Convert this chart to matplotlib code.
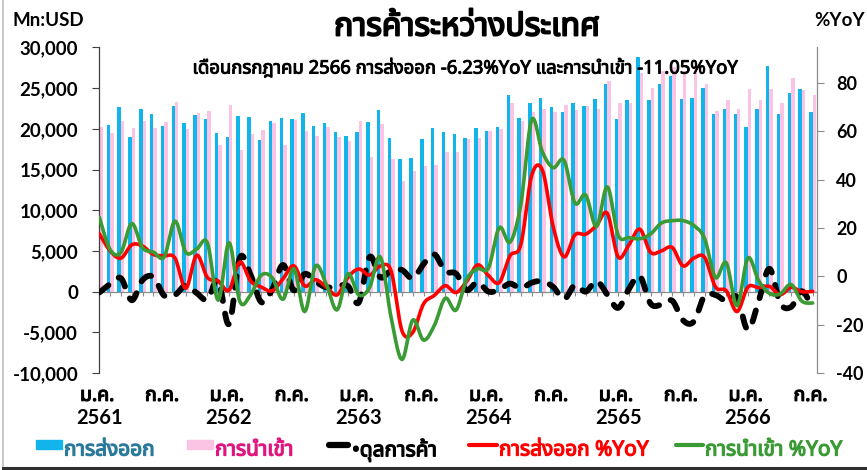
import numpy as np
import matplotlib
matplotlib.use("Agg")
import matplotlib.pyplot as plt
import matplotlib.patheffects as pe
from matplotlib import font_manager
from matplotlib.ft2font import FT2Font
from matplotlib.patches import Rectangle
from matplotlib.lines import Line2D
import matplotlib.ticker as mticker


def find_thai_font():
    prefer = ['Tahoma', 'Leelawadee UI', 'Leelawadee', 'Noto Sans Thai', 'Noto Sans Thai UI',
              'Garuda', 'Loma', 'Sarabun', 'Waree', 'Umpush', 'Kinnari', 'Norasi']
    found = {}
    for f in font_manager.fontManager.ttflist:
        try:
            ft = FT2Font(f.fname)
            if ft.get_char_index(0x0E01) and ft.get_char_index(0x0E04):
                found.setdefault(f.name, f.fname)
        except Exception:
            pass
    for p in prefer:
        if p in found:
            return p
    return next(iter(found)) if found else 'DejaVu Sans'


THAI = find_thai_font()
FAM = [THAI, 'Lato', 'DejaVu Sans']
NUM = ['Lato', 'DejaVu Sans']
plt.rcParams['axes.unicode_minus'] = False

# monthly data, ม.ค. 2561 (Jan 2018) .. ก.ค. 2566 (Jul 2023)
exports = [20100, 20450, 22660, 19060, 22410, 21880, 20330, 22860, 20780, 21760, 21190, 19470,
           18980, 21630, 21470, 18610, 21020, 21350, 21230, 21920, 20370, 20780, 19670, 19140,
           19670, 20820, 22370, 18930, 16280, 16480, 18810, 20160, 19670, 19390, 18930, 20080,
           19750, 20210, 24210, 21390, 23150, 23770, 22660, 22050, 23150, 22820, 23720, 25480,
           21230, 23560, 28830, 23560, 25520, 26540, 23640, 23770, 25030, 21840, 22410, 21800,
           20250, 22410, 27770, 21800, 24380, 24870, 22120]
imports = [20210, 19510, 21020, 20120, 20980, 20080, 20820, 23270, 20000, 21920, 22170, 18070,
           22980, 17460, 19430, 19920, 20740, 18070, 21070, 19750, 19140, 20250, 19020, 18450,
           21020, 16560, 20610, 16320, 13620, 14850, 15420, 15580, 17180, 17180, 18730, 18900,
           19750, 19960, 23230, 20980, 22050, 22490, 22090, 22980, 22330, 22820, 22410, 25850,
           23230, 23230, 26910, 25030, 27120, 27650, 27160, 27450, 25520, 22250, 23560, 22490,
           24950, 23560, 24950, 23230, 26260, 24820, 24170]
balance = [-110, 940, 1640, -1060, 1430, 1800, -490, -410, 780, -160, -980, 1400,
           -4000, 4170, 2040, -1310, 280, 3280, 160, 2170, 1230, 530, 650, 690,
           -1350, 4260, 1760, 2610, 2660, 1630, 3390, 4580, 2490, 2210, 200, 1180,
           0, 250, 980, 410, 1100, 1280, 570, -930, 820, 0, 1310, -370,
           -2000, 330, 1920, -1470, -1600, -1110, -3520, -3680, -490, -410, -1150, -690,
           -4700, -1150, 2820, -1430, -1880, 50, -2050]
export_yoy = [17.6, 10.5, 7.5, 13.0, 12.5, 9.0, 8.5, 7.5, -5.0, 8.7, -0.5, -2.0,
              -5.7, 5.9, -2.0, -4.5, -6.0, -1.0, 4.3, -4.0, -1.4, -4.5, -7.7, -0.5,
              3.0, 0.5, 4.2, 2.1, -22.5, -23.2, -11.4, -7.9, -3.9, -6.7, -2.0, 4.7,
              0.3, -2.6, 8.5, 13.1, 41.6, 43.8, 20.3, 8.0, 17.1, 17.4, 21.0, 26.0,
              8.0, 13.0, 19.5, 9.9, 10.5, 11.9, 4.3, 7.5, 7.8, -4.4, -6.0, -14.6,
              -4.5, -4.7, -4.2, -7.6, -4.6, -6.4, -6.23]
import_yoy = [24.4, 11.0, 9.9, 21.8, 11.8, 10.0, 8.0, 22.8, 9.9, 11.2, 13.8, -9.9,
              13.9, -10.4, -7.6, 0.5, -0.6, -9.5, 3.1, -14.6, 4.2, -3.3, -13.9, 1.0,
              -7.7, -4.7, 8.0, -17.1, -34.4, -18.1, -26.4, -20.3, -9.1, -14.0, -1.1, 3.1,
              3.4, 20.1, 14.1, 29.8, 64.7, 51.3, 44.9, 47.9, 30.3, 33.6, 20.6, 37.0,
              17.0, 16.0, 15.5, 17.5, 22.0, 23.0, 23.0, 21.0, 15.6, -0.5, 5.6, -12.2,
              7.5, -1.8, -7.1, -7.3, -3.4, -10.3, -11.05]
year_labels = ['2561', '2562', '2563', '2564', '2565', '2566']
month_jan, month_jul = 'ม.ค.', 'ก.ค.'

c_exp, c_imp = '#12B4EC', '#FBC3E4'
c_red, c_green = '#FF0000', '#3A9A33'


def smooth(y, n=12):
    # Excel-style smoothed line (bezier through each point)
    P = np.column_stack([np.arange(len(y)), np.asarray(y, float)])
    Q = np.vstack([P[0], P, P[-1]])
    t = np.linspace(0, 1, n, endpoint=False)[:, None]
    out = []
    for i in range(len(P) - 1):
        p0, p1, p2, p3 = Q[i], Q[i + 1], Q[i + 2], Q[i + 3]
        c1 = p1 + (p2 - p0) / 6
        c2 = p2 - (p3 - p1) / 6
        out.append((1 - t) ** 3 * p1 + 3 * (1 - t) ** 2 * t * c1 + 3 * (1 - t) * t ** 2 * c2 + t ** 3 * p2)
    out.append(P[-1:])
    out = np.vstack(out)
    return out[:, 0], out[:, 1]


def bold(color='black', w=0.9):
    # the Thai face has no bold weight, thicken the strokes instead
    return [pe.withStroke(linewidth=w, foreground=color)]


W, H = 867, 470
fig = plt.figure(figsize=(W / 100, H / 100), dpi=100)
ax = fig.add_axes([99 / W, 1 - 373 / H, (817 - 99) / W, (373 - 47.5) / H])
ax2 = ax.twinx()

x = np.arange(len(exports))
bw = 0.32
ax.bar(x - bw / 2, exports, bw, color=c_exp, linewidth=0, zorder=2)
ax.bar(x + bw / 2, imports, bw, color=c_imp, linewidth=0, zorder=2)

bx, by = smooth(balance)
ax.plot(bx, by, color='black', lw=4.2, dashes=(2.0, 2.2), dash_capstyle='round', zorder=3)
ax.set_xlim(-0.03, 66.4)
ax.set_ylim(-10000, 30000)
ax.yaxis.set_major_locator(mticker.MultipleLocator(5000))
ax.yaxis.set_major_formatter(mticker.FuncFormatter(lambda v, p: f'{int(v):,}'))

rx, ry = smooth(export_yoy)
gx, gy = smooth(import_yoy)
ax2.plot(rx, ry, color=c_red, lw=2.6, solid_capstyle='round', zorder=4)
ax2.plot(gx, gy, color=c_green, lw=2.6, solid_capstyle='round', zorder=5)
ax2.set_ylim(-40, 94.6)
ax2.set_yticks(range(-40, 81, 20))
ax2.set_zorder(ax.get_zorder() + 1)
ax2.patch.set_visible(False)

gray = '#8C8C8C'
for a in (ax, ax2):
    for s in a.spines.values():
        s.set_color(gray)
        s.set_linewidth(0.9)
    a.spines['top'].set_visible(False)
ax.spines['left'].set_color('#404040')
ax.spines['right'].set_visible(False)
ax2.spines['left'].set_visible(False)
ax2.spines['bottom'].set_visible(False)
ax.spines['bottom'].set_position(('data', 0))
ax.set_xticks(x)
ax.tick_params(axis='x', direction='out', length=3, color=gray, labelbottom=False)
ax.tick_params(axis='y', direction='out', length=5, color='#404040', pad=10)
ax2.tick_params(axis='y', direction='out', length=5, color=gray, pad=9)
for lab in ax.get_yticklabels() + ax2.get_yticklabels():
    lab.set_fontfamily(NUM)
    lab.set_fontweight('bold')
    lab.set_fontsize(13.5)
for lab in ax2.get_yticklabels():
    lab.set_fontsize(13)

trans = ax.get_xaxis_transform()
for i in range(0, len(x), 6):
    lab = month_jan if i % 12 == 0 else month_jul
    ax.text(i - 0.2, -0.07, lab, transform=trans, ha='center', va='center',
            fontsize=14, family=FAM, path_effects=bold())
    if i % 12 == 0:
        ax.text(i, -0.138, year_labels[i // 12], transform=trans, ha='center', va='center',
                fontsize=14.5, fontweight='bold', family=NUM)

# titles and axis captions
fig.text(467 / W, 1 - 27 / H, 'การค้าระหว่างประเทศ', ha='center', va='center',
         fontsize=23, family=FAM, path_effects=bold(w=1.4))
fig.text(465 / W, 1 - 68 / H, 'เดือนกรกฎาคม 2566 การส่งออก -6.23%YoY และการนำเข้า -11.05%YoY',
         ha='center', va='center', fontsize=13.3, family=FAM, path_effects=bold(w=0.7))
fig.text(13 / W, 1 - 21 / H, 'Mn:USD', ha='left', va='center', fontsize=13.5,
         fontweight='bold', family=NUM)
fig.text(840 / W, 1 - 21 / H, '%YoY', ha='center', va='center', fontsize=13.5,
         fontweight='bold', family=NUM)

# legend
ly = 1 - 445 / H
ty = 1 - 450 / H


def fx(px):
    return px / W


def legend_text(px, label, color):
    fig.text(fx(px), ty, label, color=color, fontsize=15, family=FAM, va='center',
             path_effects=bold(color))


fig.add_artist(Rectangle((fx(36), ly - 4 / H), 26 / W, 9 / H, color=c_exp, transform=fig.transFigure))
legend_text(64, 'การส่งออก', '#2A7A9C')
fig.add_artist(Rectangle((fx(187), ly - 4 / H), 26 / W, 9 / H, color=c_imp, transform=fig.transFigure))
legend_text(215, 'การนำเข้า', '#E0157F')
fig.add_artist(Line2D([fx(329), fx(348)], [ly, ly], color='black', lw=4.5,
                      solid_capstyle='round', transform=fig.transFigure))
legend_text(352, '•ดุลการค้า', 'black')
fig.add_artist(Line2D([fx(469), fx(497)], [ly, ly], color=c_red, lw=3,
                      solid_capstyle='round', transform=fig.transFigure))
legend_text(499, 'การส่งออก %YoY', c_red)
fig.add_artist(Line2D([fx(676), fx(703)], [ly, ly], color=c_green, lw=3,
                      solid_capstyle='round', transform=fig.transFigure))
legend_text(705, 'การนำเข้า %YoY', c_green)

# frame around the picture
fig.add_artist(Line2D([fx(3), fx(3)], [1 - 466 / H, 1], color='#BFBFBF', lw=1.2,
                      transform=fig.transFigure))
fig.add_artist(Line2D([fx(3), 1], [1 - 467.5 / H, 1 - 467.5 / H], color='#303030', lw=2.2,
                      transform=fig.transFigure))

fig.savefig('out.png', dpi=100)
